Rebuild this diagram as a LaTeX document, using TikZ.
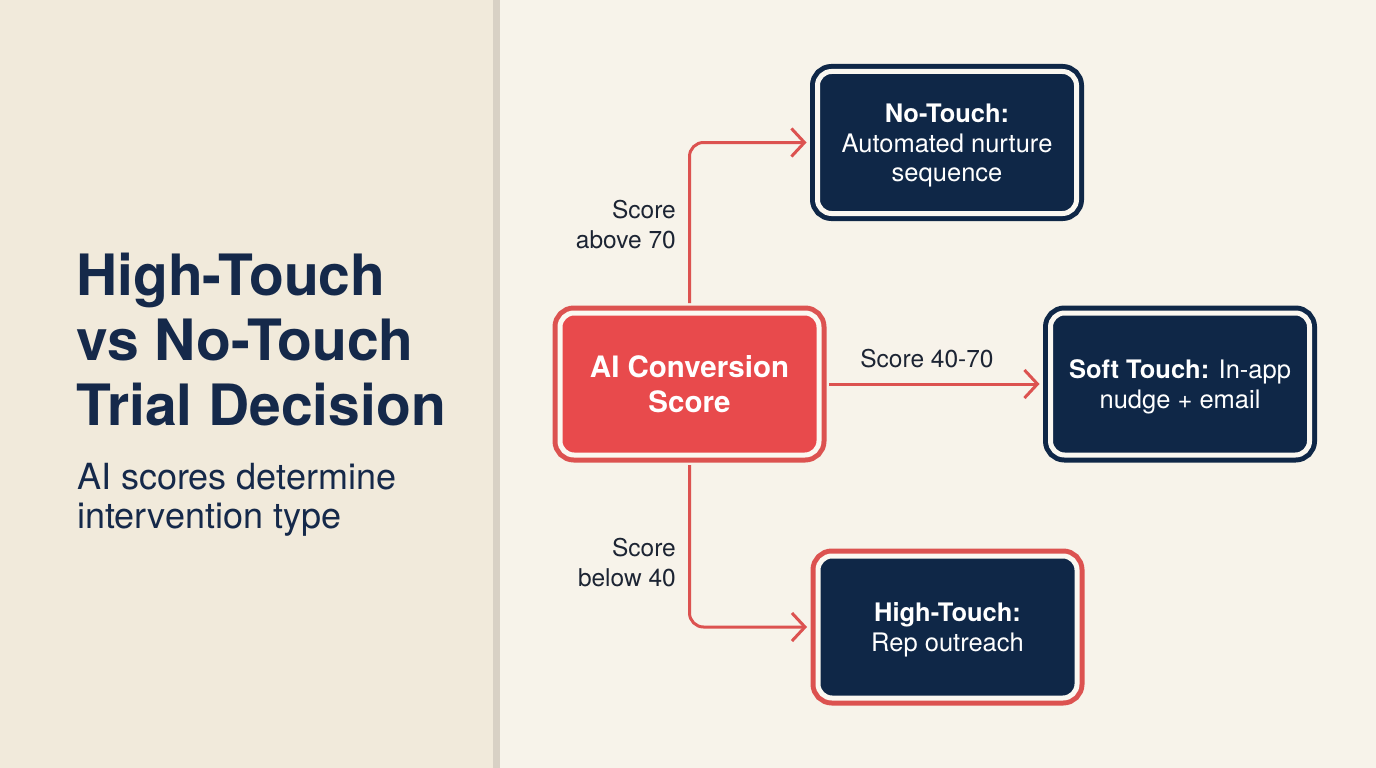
\documentclass[tikz,border=0pt]{standalone}
\usepackage{fontspec}
\setmainfont{TeX Gyre Heros}
\usetikzlibrary{arrows.meta}
\definecolor{navy}{HTML}{0F2747}
\definecolor{titlec}{HTML}{15294A}
\definecolor{redfill}{HTML}{E84A4C}
\definecolor{redline}{HTML}{DC5250}
\definecolor{gapc}{HTML}{FBF8F1}
\definecolor{leftbg}{HTML}{F1EADB}
\definecolor{rightbg}{HTML}{F7F3EA}
\definecolor{divider}{HTML}{D8D1C5}
\definecolor{labelc}{HTML}{1C2433}
\newcommand{\topstrut}{\rule{0pt}{25pt}}
\tikzset{
  x=1pt, y=-1pt,
  boxbase/.style={rectangle, rounded corners=14pt, minimum width=259pt, minimum height=142pt,
    inner sep=0pt, draw=gapc, line width=5pt, align=center, text=white},
  navybox/.style={boxbase, fill=navy, preaction={draw=navy, line width=15pt}},
  redframebox/.style={boxbase, fill=navy, preaction={draw=redline, line width=15pt}},
  scorebox/.style={boxbase, fill=redfill, preaction={draw=redline, line width=15pt}},
  conn/.style={draw=redline, line width=3pt, rounded corners=14pt,
    -{Straight Barb[length=13pt, width=28pt, line width=3pt]}},
  lbl/.style={text=labelc, font=\fontsize{24.5}{30}\selectfont, inner sep=0pt}
}
\begin{document}
\begin{tikzpicture}
\useasboundingbox (0,0) rectangle (1376,768);
\fill[leftbg] (0,0) rectangle (493,768);
\fill[rightbg] (500,0) rectangle (1376,768);
\fill[divider] (493,0) rectangle (500,768);

\node[anchor=base west, align=left, text=titlec, inner sep=0pt,
  font=\fontsize{57}{65}\selectfont\bfseries] (title) at (76,425)
  {High-Touch\\vs No-Touch\\Trial Decision};
\node[anchor=base west, align=left, text=titlec, inner sep=0pt,
  font=\fontsize{36}{39}\selectfont] (subtitle) at (77,528)
  {AI scores determine\\intervention type};

\node[scorebox, font=\fontsize{29.5}{35}\selectfont\bfseries] (score) at (689.5,384)
  {AI Conversion\\Score};
\node[navybox, font=\fontsize{25.5}{29.5}\selectfont] (notouch) at (947,142.5)
  {\topstrut\textbf{No-Touch:}\\Automated nurture\\sequence};
\node[navybox, font=\fontsize{25.5}{29.5}\selectfont] (soft) at (1180,384)
  {\topstrut\textbf{Soft Touch:} In-app\\nudge + email};
\node[redframebox, font=\fontsize{25.5}{29.5}\selectfont] (high) at (947.5,627)
  {\topstrut\textbf{High-Touch:}\\Rep outreach};

\draw[conn, shorten <=7.5pt, shorten >=8.5pt] (score.north) |- (notouch.west);
\draw[conn, shorten <=7.5pt, shorten >=8.5pt] (score.east) -- (soft.west);
\draw[conn, shorten <=7.5pt, shorten >=8.5pt] (score.south) |- (high.west);

\node[lbl, anchor=base east, align=right] (labove) at (676,248) {Score\\above 70};
\node[lbl, anchor=base] (lmid) at (927,367) {Score 40-70};
\node[lbl, anchor=base east, align=right] (lbelow) at (676,586) {Score\\below 40};
\end{tikzpicture}
\end{document}
